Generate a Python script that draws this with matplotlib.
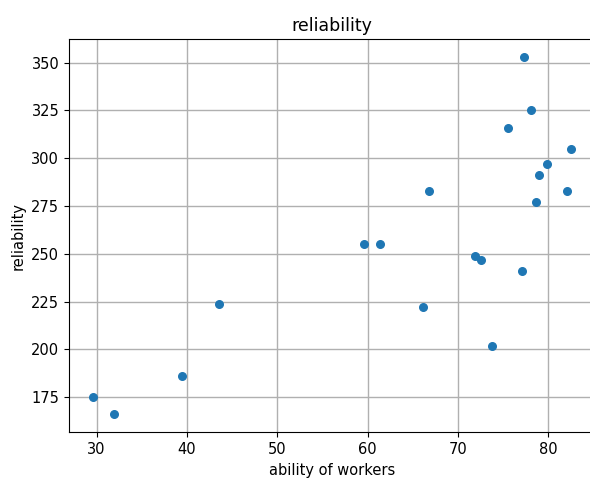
import matplotlib
matplotlib.use("Agg")
import matplotlib.pyplot as plt

# ability of workers vs reliability
ability = [77.3, 78.1, 75.5, 82.5, 79.8, 78.95, 66.75, 82.0, 78.6,
           71.9, 72.5, 77.1, 66.1, 73.7,
           59.55, 61.4, 43.5, 39.5, 29.6, 31.9]
reliability = [353, 325, 316, 305, 297, 291, 283, 283, 277,
               249, 247, 241, 222, 202,
               255, 255, 224, 186, 175, 166]

fig = plt.figure(figsize=(5.9, 4.78), dpi=100)
ax = fig.add_axes([69 / 590, 45.7 / 478, 526 / 590, 393.3 / 478])

ax.scatter(ability, reliability, s=30, color="#1f77b4", zorder=3)
ax.set_title("reliability", fontsize=12.5)
ax.set_xlabel("ability of workers", fontsize=10.5)
ax.set_ylabel("reliability", fontsize=10.5)
ax.tick_params(labelsize=10.5)
ax.set_yticks([175, 200, 225, 250, 275, 300, 325, 350])
ax.grid(True, color="#b0b0b0", linewidth=1.0)
ax.set_axisbelow(True)

fig.savefig("out.png", dpi=100)
